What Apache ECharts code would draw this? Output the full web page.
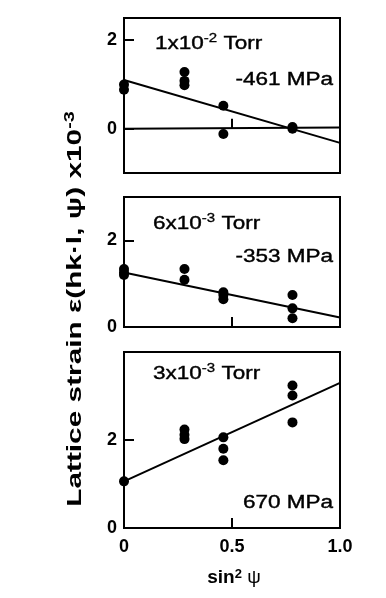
<!DOCTYPE html>
<html><head><meta charset="utf-8">
<script src="https://cdn.jsdelivr.net/npm/echarts@6/dist/echarts.min.js"></script>
<style>html,body{margin:0;padding:0;background:#fff}#c{width:386px;height:598px}</style>
</head><body><div id="c"></div>
<script>
// Panel 1: 1x10^-2 Torr
const p1X = [0, 0, 0.28, 0.28, 0.28, 0.46, 0.46, 0.78, 0.78];
const p1Y = [1.0, 0.88, 1.28, 1.08, 0.98, 0.52, -0.12, 0.04, 0.0];
const p1FitX = [0, 1];
const p1FitY = [1.1, -0.32];
const p1ZeroY = [0, 0.03];
// Panel 2: 6x10^-3 Torr
const p2X = [0, 0, 0, 0.28, 0.28, 0.46, 0.46, 0.46, 0.78, 0.78, 0.78];
const p2Y = [1.34, 1.26, 1.2, 1.34, 1.09, 0.8, 0.74, 0.64, 0.74, 0.43, 0.2];
const p2FitX = [0, 1];
const p2FitY = [1.26, 0.22];
// Panel 3: 3x10^-3 Torr
const p3X = [0, 0.28, 0.28, 0.28, 0.46, 0.46, 0.46, 0.78, 0.78, 0.78];
const p3Y = [1.06, 2.24, 2.12, 2.02, 2.06, 1.8, 1.54, 3.24, 3.01, 2.4];
const p3FitX = [0, 1];
const p3FitY = [1.06, 3.3];
// Axes
const xTicks = [0, 0.5, 1];
const xTickLabels = ['0', '0.5', '1.0'];
const yTicks = [0, 2];
const yRanges = [[-1, 2.5], [0, 3], [0, 4]];

const FONT = '"Liberation Sans", Arial, sans-serif';
const zip = (xs, ys) => xs.map((x, i) => [x, ys[i]]);

const grids = [
  {left: 124, width: 216, top: 18, height: 155},
  {left: 124, width: 216, top: 197, height: 130},
  {left: 124, width: 216, top: 352, height: 176}
].map(g => Object.assign(g, {show: true, borderColor: '#000', borderWidth: 2, backgroundColor: 'transparent'}));

const xAxes = grids.map((g, i) => ({
  type: 'value', gridIndex: i, min: 0, max: 1,
  splitLine: {show: false}, axisLine: {show: false},
  axisTick: {show: true, inside: true, length: 10, customValues: [0.5], lineStyle: {color: '#000', width: 2}},
  axisLabel: {show: i === 2, customValues: xTicks, formatter: v => xTickLabels[xTicks.indexOf(v)] ?? '',
    color: '#000', fontFamily: FONT, fontWeight: 'bold', fontSize: 18, margin: 10}
}));
const yAxes = grids.map((g, i) => ({
  type: 'value', gridIndex: i, min: yRanges[i][0], max: yRanges[i][1],
  splitLine: {show: false}, axisLine: {show: false},
  axisTick: {show: true, inside: true, length: 10, customValues: yTicks, lineStyle: {color: '#000', width: 2}},
  axisLabel: {customValues: yTicks, color: '#000', fontFamily: FONT, fontWeight: 'bold', fontSize: 18, margin: 7}
}));

const scat = (i, xs, ys) => ({type: 'scatter', xAxisIndex: i, yAxisIndex: i, data: zip(xs, ys),
  symbolSize: 10, itemStyle: {color: '#000', opacity: 1}, z: 5});
const line = (i, xs, ys) => ({type: 'line', xAxisIndex: i, yAxisIndex: i, data: zip(xs, ys),
  symbol: 'none', lineStyle: {color: '#000', width: 2}, z: 4});

const rich = {
  n: {fontSize: 18, fontFamily: FONT, fill: '#000', stroke: '#000', lineWidth: 0.4},
  s: {fontSize: 12, fontFamily: FONT, fill: '#000', stroke: '#000', lineWidth: 0.3, verticalAlign: 'top', padding: [0, 0, 10, 0]}
};
const txt = (x, y, t, align) => ({type: 'text', x: x, y: y, scaleX: 1.25, style: {text: t, rich: rich, fill: '#000', textAlign: align || 'left', textVerticalAlign: 'middle'}});

const option = {
  animation: false,
  grid: grids, xAxis: xAxes, yAxis: yAxes,
  series: [
    scat(0, p1X, p1Y), line(0, p1FitX, p1FitY), line(0, p1FitX, p1ZeroY),
    scat(1, p2X, p2Y), line(1, p2FitX, p2FitY),
    scat(2, p3X, p3Y), line(2, p3FitX, p3FitY)
  ],
  graphic: [
    txt(155, 44, '{n|1x10}{s|-2}{n| Torr}'),
    txt(333, 80, '{n|-461 MPa}', 'right'),
    txt(153, 224, '{n|6x10}{s|-3}{n| Torr}'),
    txt(333, 257, '{n|-353 MPa}', 'right'),
    txt(153, 374, '{n|3x10}{s|-3}{n| Torr}'),
    txt(333, 503, '{n|670 MPa}', 'right'),
    {type: 'text', x: 234, y: 578, style: {text: '{b|sin}{bs|2}{c| ψ}', textAlign: 'center', textVerticalAlign: 'middle',
      rich: {b: {fontSize: 19, fontWeight: 'bold', fontFamily: FONT, fill: '#000'}, c: {fontSize: 19, fontFamily: FONT, fill: '#000'}, bs: {fontSize: 13, fontWeight: 'bold', fontFamily: FONT, fill: '#000', verticalAlign: 'top', padding: [0, 0, 8, 0]}}}},
    {type: 'text', x: 75, y: 309, rotation: Math.PI / 2, scaleX: 1.42, style: {text: '{b|Lattice strain ε(hk·l, ψ) x10}{bs|-3}', textAlign: 'center', textVerticalAlign: 'middle',
      rich: {b: {fontSize: 21, fontWeight: 'bold', fontFamily: FONT, fill: '#000'}, bs: {fontSize: 14, fontWeight: 'bold', fontFamily: FONT, fill: '#000', verticalAlign: 'top', padding: [0, 0, 10, 0]}}}}
  ]
};
const chart = echarts.init(document.getElementById('c'), null, {renderer: 'canvas'});
chart.setOption(option);
</script></body></html>
